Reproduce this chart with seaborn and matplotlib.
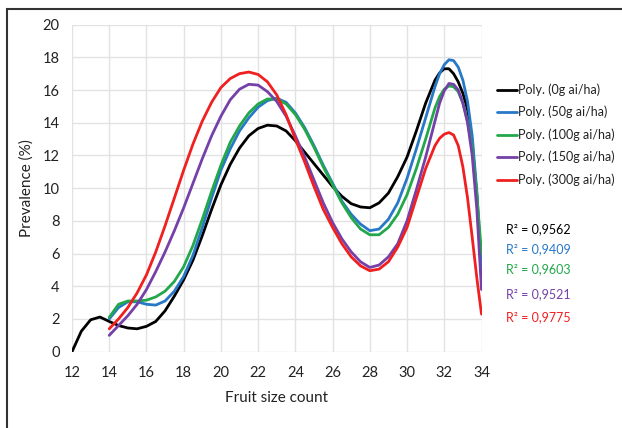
import numpy as np
import pandas as pd
import matplotlib
matplotlib.use("Agg")
import matplotlib.pyplot as plt
from matplotlib.patches import Rectangle
import seaborn as sns

# ---- data (trend lines) ----
x_0g = [12, 12.5, 13, 13.5, 14, 14.5, 15, 15.5, 16, 16.5, 17, 17.5, 18, 18.5, 19, 19.5,
        20, 20.5, 21, 21.5, 22, 22.5, 23, 23.5, 24, 24.5, 25, 25.5, 26, 26.5, 27, 27.5,
        28, 28.5, 29, 29.5, 30, 30.5, 31, 31.5, 31.75, 32, 32.25, 32.5, 32.75, 33, 33.25,
        33.5, 33.75, 34]
y_0g = [0, 1.25, 1.95, 2.12, 1.85, 1.6, 1.45, 1.4, 1.55, 1.85, 2.5, 3.4, 4.4, 5.6, 7.1, 8.7,
        10.2, 11.45, 12.45, 13.2, 13.65, 13.85, 13.8, 13.5, 12.9, 12.2, 11.5, 10.8, 10.1, 9.5, 9.05, 8.85,
        8.8, 9.1, 9.7, 10.7, 11.9, 13.5, 15.2, 16.6, 17.05, 17.3, 17.3, 17.0, 16.5, 15.8, 14.8,
        12.8, 9.5, 4.5]

x_rest = [14, 14.5, 15, 15.5, 16, 16.5, 17, 17.5, 18, 18.5, 19, 19.5,
          20, 20.5, 21, 21.5, 22, 22.5, 23, 23.5, 24, 24.5, 25, 25.5, 26, 26.5, 27, 27.5,
          28, 28.5, 29, 29.5, 30, 30.5, 31, 31.5, 31.75, 32, 32.25, 32.5, 32.75, 33, 33.25,
          33.5, 33.75, 34]
y_50g = [2.0, 2.7, 3.05, 3.05, 2.9, 2.85, 3.1, 3.7, 4.6, 5.9, 7.6, 9.4,
         11.1, 12.4, 13.5, 14.3, 14.95, 15.35, 15.5, 15.25, 14.6, 13.7, 12.6, 11.4, 10.3, 9.2, 8.4, 7.8,
         7.4, 7.5, 8.1, 9.1, 10.6, 12.4, 14.3, 16.2, 17.0, 17.55, 17.85, 17.8, 17.4, 16.6, 15.3,
         13.2, 9.8, 5.0]
y_100g = [2.1, 2.9, 3.1, 3.1, 3.15, 3.35, 3.7, 4.3, 5.2, 6.5, 8.1, 9.8,
          11.4, 12.8, 13.8, 14.6, 15.15, 15.45, 15.45, 15.15, 14.5, 13.6, 12.5, 11.3, 10.2, 9.1, 8.2, 7.5,
          7.15, 7.15, 7.6, 8.4, 9.6, 11.2, 13.0, 14.9, 15.6, 16.05, 16.25, 16.2, 15.9, 15.2, 14.1,
          12.4, 9.6, 6.0]
y_150g = [1.0, 1.6, 2.2, 2.9, 3.8, 4.9, 6.1, 7.4, 8.8, 10.3, 11.8, 13.2,
          14.4, 15.4, 16.05, 16.35, 16.3, 15.9, 15.3, 14.4, 13.2, 11.9, 10.5, 9.1, 7.9, 6.9, 6.1, 5.5,
          5.15, 5.3, 5.8, 6.6, 8.0, 9.9, 11.9, 14.1, 15.2, 15.95, 16.4, 16.35, 16.0, 15.2, 14.0,
          12.0, 8.7, 3.8]
y_300g = [1.4, 2.0, 2.7, 3.6, 4.7, 6.1, 7.7, 9.4, 11.1, 12.7, 14.1, 15.25,
          16.15, 16.7, 17.0, 17.1, 16.95, 16.5, 15.7, 14.5, 13.0, 11.6, 10.1, 8.7, 7.6, 6.6, 5.8, 5.25,
          4.95, 5.05, 5.5, 6.4, 7.6, 9.4, 11.2, 12.6, 13.05, 13.3, 13.4, 13.25, 12.6, 11.3, 9.4,
          7.0, 4.5, 2.3]

series_names = ["Poly. (0g ai/ha)", "Poly. (50g ai/ha)", "Poly. (100g ai/ha)",
                "Poly. (150g ai/ha)", "Poly. (300g ai/ha)"]
r2_labels = ["R² = 0,9562", "R² = 0,9409", "R² = 0,9603", "R² = 0,9521", "R² = 0,9775"]
x_ticks = [12, 14, 16, 18, 20, 22, 24, 26, 28, 30, 32, 34]
y_ticks = [0, 2, 4, 6, 8, 10, 12, 14, 16, 18, 20]

colors = ["#000000", "#2878C8", "#22A84A", "#7540A8", "#F02020"]

frames = []
for name, xs, ys in zip(series_names,
                        [x_0g, x_rest, x_rest, x_rest, x_rest],
                        [y_0g, y_50g, y_100g, y_150g, y_300g]):
    frames.append(pd.DataFrame({"x": xs, "y": ys, "series": name}))
df = pd.concat(frames, ignore_index=True)

sns.set_style("white")
plt.rcParams["font.family"] = ["Lato", "DejaVu Sans"]

fig = plt.figure(figsize=(6.22, 4.28), dpi=100)
ax = fig.add_axes([72 / 622, 1 - 351.7 / 428, (481.5 - 72) / 622, (351.7 - 24.6) / 428])

sns.lineplot(data=df, x="x", y="y", hue="series", palette=colors, hue_order=series_names,
             linewidth=2.0, ax=ax, legend=False, sort=False, zorder=3)
for ln in ax.get_lines():
    ln.set_solid_joinstyle("round")
    ln.set_solid_capstyle("round")

ax.set_xlim(12, 34)
ax.set_ylim(0, 20)
ax.set_xticks(x_ticks)
ax.set_yticks(y_ticks)
ax.grid(True, color="#e2e2e2", linewidth=1.0, zorder=0)
for s in ax.spines.values():
    s.set_visible(False)
ax.tick_params(axis="both", length=0, labelsize=10.5, colors="#222222", pad=9)
ax.tick_params(axis="x", pad=10)
ax.set_xlabel("Fruit size count", fontsize=11, color="#222222", labelpad=8)
ax.set_ylabel("Prevalence (%)", fontsize=11, color="#222222", labelpad=6)

# legend (drawn manually in figure coords)
leg_y = [90, 112, 134.5, 157, 180]
for name, c, yy in zip(series_names, colors, leg_y):
    fy = 1 - yy / 428
    fig.add_artist(plt.Line2D([497 / 622, 517 / 622], [fy, fy], color=c, linewidth=2.0))
    fig.text(518 / 622, fy, name, fontsize=9, color="#222222", va="center", ha="left")

r2_y = [229, 249, 269, 294, 317]
for lab, c, yy in zip(r2_labels, colors, r2_y):
    fig.text(506 / 622, 1 - yy / 428, lab, fontsize=9, color=c, va="center", ha="left")

# outer frame (partially visible)
fig.add_artist(Rectangle((7 / 622, -0.1), 1.2, 1 - 9 / 428 + 0.1, transform=fig.transFigure,
                         fill=False, edgecolor="#333333", linewidth=1.5))

fig.savefig("out.png", dpi=100, facecolor="white")
